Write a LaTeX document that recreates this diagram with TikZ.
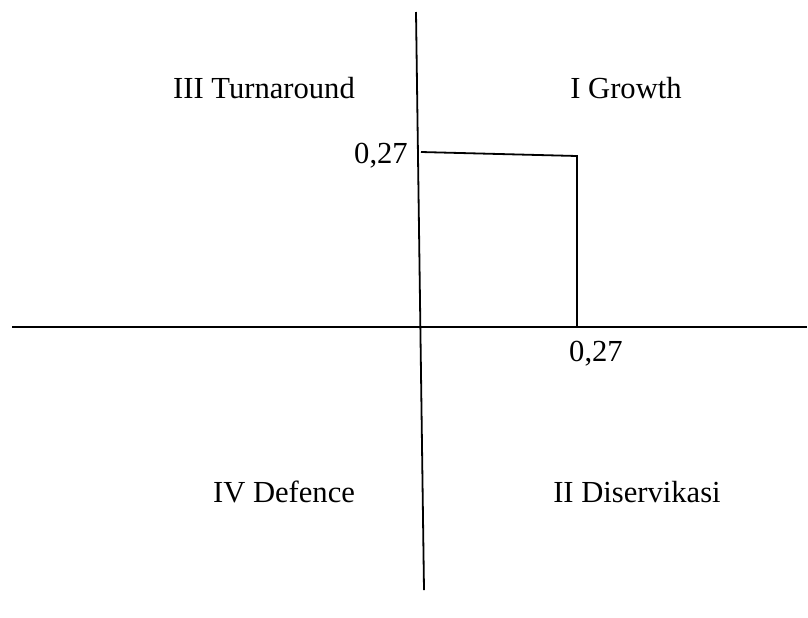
\documentclass[tikz,border=0pt]{standalone}
\usepackage{fontspec}
\setmainfont{Liberation Serif}
\usetikzlibrary{positioning}
\tikzset{
    axisline/.style={
        line width=0.9pt,
        black
    },
    % quadrant and value labels
    quadlabel/.style={
        font=\fontsize{15.3}{18}\selectfont,
        inner sep=0pt
    }
}
\begin{document}
\begin{tikzpicture}[x=0.5pt,y=-0.5pt]
   \useasboundingbox (0,0) rectangle (808,617);
   \coordinate (vtop) at (416,12);
   \coordinate (vbot) at (424,590);
   \coordinate (hleft) at (12,327);
   \coordinate (hright) at (807,327);
   \draw[axisline] (vtop) -- (vbot);
   \draw[axisline] (hleft) -- (hright);
    \node[quadlabel] (turn) at (264,88) {III Turnaround};
    \node[quadlabel] (grow) at (626,88) {I Growth};
    \node[quadlabel] (def) at (284,492) {IV Defence};
    \node[quadlabel] (div) at (637,492) {II Diservikasi};
    \node[quadlabel] (yval) at (381,156) {0,27};
    \node[quadlabel] (xval) at (596,354) {0,27};
   \coordinate (ystart) at (421,152);
   \coordinate (corner) at (577,156);
   \coordinate (xend) at (577,327);
   \draw[axisline] (ystart) -- (corner) -- (xend);
\end{tikzpicture}
\end{document}
